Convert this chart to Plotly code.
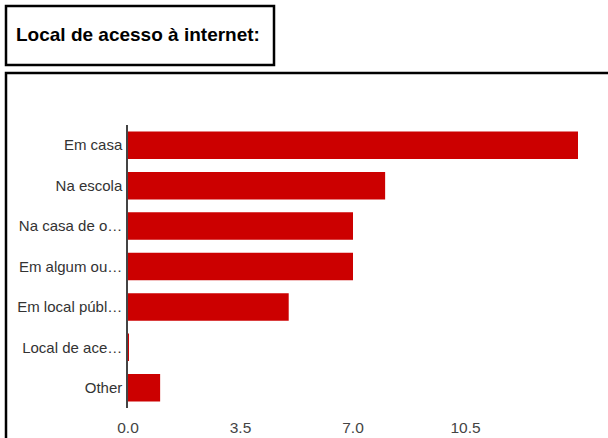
import plotly.graph_objects as go

categories = ["Em casa", "Na escola", "Na casa de o…", "Em algum ou…", "Em local públ…", "Local de ace…", "Other"]
values = [14, 8, 7, 7, 5, 0.03, 1]
tick_vals = [0, 3.5, 7, 10.5]
tick_text = ["0.0", "3.5", "7.0", "10.5"]
title_text = "Local de acesso à internet:"

W, H = 608, 438
L, R, T, B = 128, 30, 125, 30
pw, ph = W - L - R, H - T - B

def px(x):
    return (x - L) / pw

def py(y):
    return (H - B - y) / ph

FONT = "Liberation Sans, Arial, sans-serif"

fig = go.Figure(go.Bar(
    x=values, y=categories, orientation="h",
    marker=dict(color="#cc0000", line=dict(width=0)),
    width=0.68, hoverinfo="skip",
))

fig.update_layout(
    width=W, height=H,
    margin=dict(l=L, r=R, t=T, b=B, autoexpand=False),
    paper_bgcolor="white", plot_bgcolor="white",
    showlegend=False,
    font=dict(family=FONT, size=15, color="#333333"),
    xaxis=dict(range=[0, 14], tickvals=tick_vals, ticktext=tick_text,
               showgrid=False, zeroline=False, showline=False, ticks="",
               ticklabelstandoff=8, fixedrange=True, automargin=False,
               tickfont=dict(size=15.5, color="#444444")),
    yaxis=dict(categoryorder="array", categoryarray=categories, range=[6.5, -0.5],
               showgrid=False, zeroline=False, showline=True, linecolor="#444444",
               linewidth=1.5, ticks="", ticklabelstandoff=1, fixedrange=True, automargin=False,
               tickfont=dict(size=15, color="#333333")),
    shapes=[
        dict(type="rect", xref="paper", yref="paper", x0=px(6), x1=px(274), y0=py(6), y1=py(65),
             line=dict(color="black", width=2.5), fillcolor="rgba(0,0,0,0)", layer="above"),
        dict(type="rect", xref="paper", yref="paper", x0=px(6), x1=px(640), y0=py(73), y1=py(470),
             line=dict(color="black", width=2.5), fillcolor="rgba(0,0,0,0)", layer="above"),
    ],
    annotations=[
        dict(text="<b>" + title_text + "</b>", xref="paper", yref="paper", x=px(14), y=py(35),
             xanchor="left", yanchor="middle", showarrow=False,
             font=dict(family=FONT, size=19, color="black")),
    ],
)

fig.write_html("out.html")
